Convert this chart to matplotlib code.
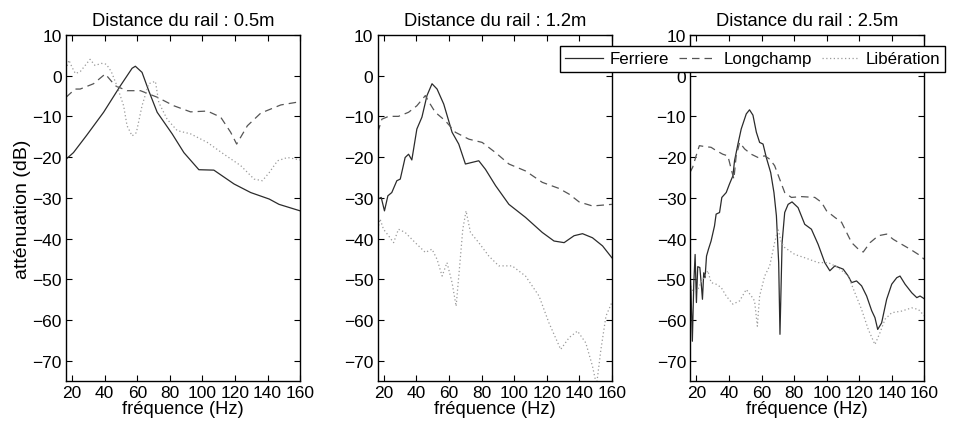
import matplotlib
matplotlib.use("Agg")
import matplotlib.pyplot as plt

plt.rcParams['font.family'] = ['Liberation Sans', 'DejaVu Sans']
plt.rcParams['font.size'] = 10.5

titles = ["Distance du rail : 0.5m", "Distance du rail : 1.2m", "Distance du rail : 2.5m"]
series_names = ["Ferriere", "Longchamp", "Libération"]
xticks = [20, 40, 60, 80, 100, 120, 140, 160]
yticks = [10, 0, -10, -20, -30, -40, -50, -60, -70]

# ---- Panel 1 : 0.5 m ----
p1_ferriere_f = [16.3, 20.8, 29.0, 39.3, 49.6, 56.8, 58.8, 62.9, 67.0, 72.2, 81.4, 88.6, 97.8, 107.0, 119.4, 129.6, 141.0, 147.0, 160.0]
p1_ferriere_v = [-20.5, -18.9, -14.6, -9.0, -2.5, 1.8, 2.3, 0.8, -3.7, -9.0, -14.3, -18.9, -23.1, -23.2, -26.6, -28.7, -30.3, -31.6, -33.2]
p1_longchamp_f = [16.3, 21.8, 24.9, 33.1, 40.3, 46.5, 53.7, 61.9, 72.2, 82.4, 92.7, 103.0, 111.2, 117.3, 121.0, 127.6, 135.8, 148.1, 160.0]
p1_longchamp_v = [-5.3, -3.3, -3.3, -2.0, 0.4, -2.5, -3.7, -3.7, -5.3, -7.4, -8.9, -8.7, -10.2, -13.9, -16.8, -12.3, -9.2, -7.2, -6.4]
p1_liberation_f = [16.3, 18.0, 20.0, 22.0, 25.0, 28.0, 31.0, 34.0, 38.0, 41.0, 44.0, 47.5, 51.6, 53.7, 56.8, 59.4, 62.9, 67.0, 71.1, 73.2, 78.3, 84.5, 92.7, 103.0, 113.2, 123.5, 131.7, 136.8, 141.0, 146.1, 152.2, 160.0]
p1_liberation_v = [1.5, 3.8, 2.0, 0.5, 1.0, 2.5, 4.0, 2.5, 3.0, 2.8, 1.0, -2.5, -7.4, -12.3, -14.8, -14.0, -7.4, -2.0, -1.4, -6.6, -10.7, -13.5, -14.3, -16.4, -19.3, -22.1, -25.4, -25.8, -23.8, -20.9, -20.1, -20.7]

# ---- Panel 2 : 1.2 m ----
p2_ferriere_f = [16.3, 18.4, 20.4, 22.5, 24.9, 28.0, 30.1, 33.1, 35.2, 37.2, 40.3, 43.4, 46.5, 49.6, 52.7, 56.8, 61.9, 66.0, 70.1, 74.2, 78.3, 82.4, 88.6, 96.8, 107.0, 117.3, 124.5, 130.7, 136.8, 142.0, 148.1, 154.3, 160.0]
p2_ferriere_v = [-30.3, -29.9, -33.2, -29.5, -28.7, -25.8, -25.4, -20.1, -19.3, -20.7, -13.1, -10.2, -4.9, -2.0, -3.3, -7.0, -13.9, -16.8, -21.7, -21.3, -20.9, -23.0, -27.0, -31.6, -34.8, -38.5, -40.6, -41.0, -39.3, -38.8, -39.8, -41.8, -44.7]
p2_longchamp_f = [16.3, 18.8, 22.9, 29.0, 35.2, 40.3, 45.5, 48.5, 51.6, 57.8, 63.9, 72.2, 80.4, 88.6, 96.8, 107.0, 117.3, 127.6, 133.8, 139.9, 148.1, 160.0]
p2_longchamp_v = [-13.9, -10.7, -10.0, -10.0, -9.0, -7.4, -4.9, -7.0, -9.0, -11.1, -13.9, -15.6, -16.4, -18.9, -21.7, -23.4, -26.2, -27.7, -29.1, -31.0, -32.0, -31.6]
p2_liberation_f = [16.3, 17.7, 19.8, 22.9, 26.0, 29.0, 33.1, 39.3, 45.5, 49.6, 52.7, 55.8, 58.8, 61.9, 64.4, 66.4, 68.5, 70.5, 73.2, 78.3, 84.5, 90.6, 98.8, 107.0, 115.3, 121.4, 128.6, 133.8, 138.9, 144.0, 148.1, 150.6, 153.3, 156.4, 160.0]
p2_liberation_v = [-37.7, -35.2, -37.7, -39.3, -41.0, -37.7, -38.5, -41.0, -43.4, -42.6, -45.1, -49.2, -45.9, -50.8, -56.6, -47.5, -37.7, -33.2, -38.5, -41.0, -44.3, -46.7, -46.7, -49.2, -54.1, -60.7, -67.2, -64.3, -62.7, -65.6, -71.3, -76.0, -67.2, -59.0, -55.7]

# ---- Panel 3 : 2.5 m ----
p3_ferriere_f = [16.0, 16.7, 17.5, 18.4, 19.2, 20.0, 20.8, 22.1, 22.9, 23.7, 24.5, 25.3, 26.2, 27.4, 29.0, 31.1, 32.1, 34.2, 35.6, 38.3, 40.3, 42.4, 43.4, 45.5, 47.5, 50.6, 52.6, 54.7, 56.8, 58.8, 60.9, 62.9, 65.6, 67.6, 69.1, 70.5, 71.3, 72.6, 74.2, 76.3, 78.7, 82.4, 86.5, 90.6, 94.7, 98.8, 101.9, 105.0, 107.5, 110.1, 113.2, 115.3, 118.3, 121.4, 124.5, 127.6, 129.6, 131.3, 133.7, 136.8, 139.9, 143.0, 145.0, 148.1, 152.2, 155.3, 157.3, 160.0]
p3_ferriere_v = [-47.6, -53.3, -65.2, -50.8, -43.9, -55.7, -46.9, -47.1, -50.8, -54.9, -48.4, -49.6, -44.3, -42.6, -40.6, -36.9, -34.0, -33.6, -29.9, -28.7, -26.6, -24.6, -20.9, -16.8, -13.1, -9.4, -8.4, -9.7, -13.9, -16.4, -16.8, -20.1, -23.8, -28.7, -34.4, -45.9, -63.5, -41.0, -33.6, -31.6, -31.0, -32.4, -36.5, -37.7, -41.4, -45.9, -47.9, -46.7, -47.1, -47.5, -49.2, -50.8, -50.4, -51.6, -54.1, -57.7, -59.4, -62.3, -60.7, -54.9, -51.2, -49.6, -49.2, -51.2, -53.3, -54.5, -54.1, -54.8]
p3_longchamp_f = [16.0, 17.7, 19.8, 21.8, 24.9, 29.0, 32.1, 36.2, 39.3, 41.4, 43.0, 44.4, 46.5, 49.6, 53.7, 57.8, 61.9, 65.0, 68.0, 71.1, 74.2, 78.3, 84.5, 92.7, 96.8, 99.9, 105.0, 109.1, 112.2, 115.3, 119.4, 122.4, 126.6, 131.7, 136.8, 140.9, 146.0, 151.2, 156.3, 160.0]
p3_longchamp_v = [-23.8, -22.5, -19.7, -17.2, -17.4, -17.6, -18.4, -19.3, -19.7, -23.0, -25.4, -19.7, -16.4, -18.0, -19.3, -20.1, -19.7, -20.5, -22.1, -25.4, -28.7, -29.9, -29.7, -29.9, -31.1, -33.2, -34.8, -36.0, -38.5, -41.0, -42.6, -43.3, -41.0, -39.3, -38.9, -40.2, -41.4, -42.6, -43.9, -45.1]
p3_liberation_f = [16.0, 17.7, 20.8, 23.9, 27.0, 29.0, 32.1, 35.2, 38.3, 42.4, 46.5, 50.6, 53.7, 55.7, 57.4, 58.8, 61.9, 65.0, 68.0, 70.1, 72.2, 74.2, 80.4, 86.5, 94.7, 100.9, 107.0, 113.2, 117.3, 121.4, 125.5, 129.6, 132.7, 135.8, 139.9, 146.0, 152.2, 156.3, 160.0]
p3_liberation_v = [-50.8, -52.9, -52.5, -50.0, -47.9, -50.8, -51.2, -52.0, -54.1, -56.1, -55.3, -52.5, -54.1, -55.3, -61.5, -54.1, -49.2, -46.7, -41.0, -37.7, -41.0, -42.2, -43.9, -44.7, -45.9, -45.9, -47.1, -49.2, -53.3, -57.4, -62.3, -66.0, -63.1, -59.8, -58.2, -57.8, -57.0, -57.4, -59.0]

panels = [
    (p1_ferriere_f, p1_ferriere_v, p1_longchamp_f, p1_longchamp_v, p1_liberation_f, p1_liberation_v),
    (p2_ferriere_f, p2_ferriere_v, p2_longchamp_f, p2_longchamp_v, p2_liberation_f, p2_liberation_v),
    (p3_ferriere_f, p3_ferriere_v, p3_longchamp_f, p3_longchamp_v, p3_liberation_f, p3_liberation_v),
]

fig = plt.figure(figsize=(9.56, 4.27), dpi=100)
lefts = [0.069, 0.395, 0.722]
width = 0.245
bottom, top = 0.105, 0.916

handles = None
for i, (ff, fv, lf, lv, bf, bv) in enumerate(panels):
    ax = fig.add_axes([lefts[i], bottom, width, top - bottom])
    h1, = ax.plot(ff, fv, color='#2b2b2b', lw=0.9, ls='-')
    h2, = ax.plot(lf, lv, color='#555555', lw=0.9, ls=(0, (6, 4)))
    h3, = ax.plot(bf, bv, color='#9a9a9a', lw=0.9, ls=(0, (1, 2)))
    handles = [h1, h2, h3]
    ax.set_xlim(16.2, 160)
    ax.set_ylim(-75, 10)
    ax.set_xticks(xticks)
    ax.set_yticks(yticks)
    ax.tick_params(direction='in', top=True, right=True, length=4, width=0.8, pad=3, labelsize=12.5)
    for s in ax.spines.values():
        s.set_linewidth(1.0)
    ax.set_title(titles[i], fontsize=13.2, pad=7)
    ax.set_xlabel("fréquence (Hz)", fontsize=13.2, labelpad=0)
    if i == 0:
        ax.set_ylabel("atténuation (dB)", fontsize=14, labelpad=1)

leg = fig.legend(handles, series_names, ncol=3, loc='upper right',
                 bbox_to_anchor=(0.989, 0.889), fontsize=12.2,
                 frameon=True, fancybox=False, framealpha=1,
                 edgecolor='black', handlelength=2.2, handletextpad=0.4,
                 columnspacing=0.6, borderpad=0.3, borderaxespad=0)
leg.get_frame().set_linewidth(1.0)

fig.savefig("out.png", dpi=100)
